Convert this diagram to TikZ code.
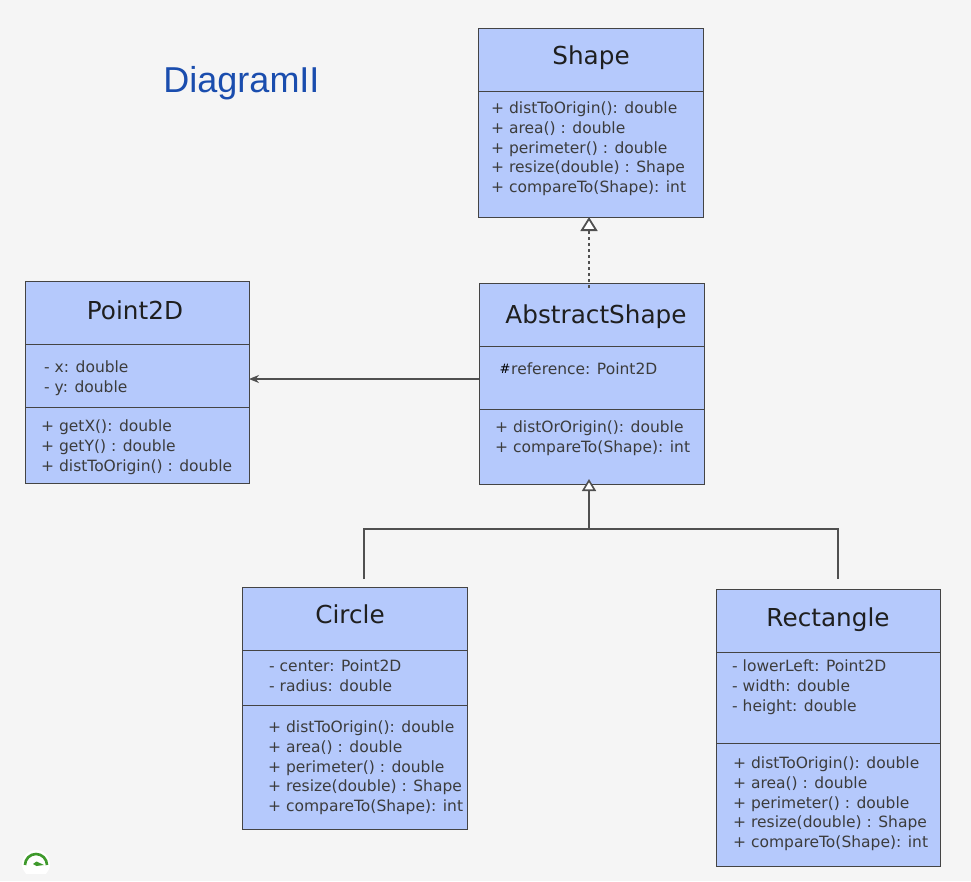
\documentclass[tikz,border=0pt]{standalone}
\usepackage{fontspec}
\setmainfont{DejaVu Sans}
\newfontfamily\headfont{Liberation Sans}
\usetikzlibrary{arrows.meta,positioning}
\definecolor{bgc}{HTML}{F5F5F5}
\definecolor{boxc}{HTML}{B5C9FC}
\definecolor{linec}{HTML}{444444}
\definecolor{connc}{HTML}{505050}
\definecolor{headc}{HTML}{1A4DAE}
\definecolor{txtc}{HTML}{3C3C3C}
\definecolor{gaugec}{HTML}{3F9A2C}
\tikzset{
  x=1pt,y=-1pt,
  compart/.style={draw=linec,fill=boxc,line width=1pt,anchor=north west,inner sep=0pt,outer sep=0pt},
  classname/.style={font=\fontsize{24.7}{28}\selectfont,text=black!88,inner sep=0pt},
  members/.style={font=\fontsize{15.5}{19.6}\selectfont,text=txtc,align=left,anchor=north west,inner sep=0pt},
  assoc/.style={draw=connc,line width=2pt},
  upperhead/.style={-{Triangle[open,fill=white,length=14pt,width=17pt,line width=1.8pt]}},
  lowerhead/.style={-{Triangle[open,fill=white,length=12pt,width=14pt,line width=1.6pt]}},
  headtext/.style={font=\headfont\fontsize{36}{40}\selectfont,text=headc,inner sep=0pt},
}
\newcommand{\comp}[5]{\node[compart,minimum width=#3pt,minimum height=#4pt] (#5) at (#1,#2) {};}
\begin{document}
\begin{tikzpicture}
\useasboundingbox (0,0) rectangle (971,881);
\fill[bgc] (0,0) rectangle (971,881);

\node[headtext] (heading) at (241.5,83) {DiagramII};

% Shape
\comp{478}{28}{225}{63}{shapeT}
\comp{478}{91}{225}{126}{shapeO}
\node[classname] (shapeN) at (591,58) {Shape};
\node[members] (shapeM) at (491,102) {+ distToOrigin(): double\\+ area() : double\\+ perimeter() : double\\+ resize(double) : Shape\\+ compareTo(Shape): int};

% AbstractShape
\comp{479}{283}{225}{63}{absT}
\comp{479}{346}{225}{63}{absA}
\comp{479}{409}{225}{75}{absO}
\node[classname] (absN) at (596,317) {AbstractShape};
\node[members,font=\fontsize{13}{15}\selectfont] (absH) at (499.5,363.5) {\textcolor{black}{\#}};
\node[members] (absM1) at (511,363) {reference: Point2D};
\node[members] (absM2) at (495,421) {+ distOrOrigin(): double\\+ compareTo(Shape): int};

% Point2D
\comp{25}{281}{224}{63}{ptT}
\comp{25}{344}{224}{63}{ptA}
\comp{25}{407}{224}{76}{ptO}
\node[classname] (ptN) at (135,310) {Point2D};
\node[members] (ptM1) at (44,361) {- x: double\\- y: double};
\node[members] (ptM2) at (41,420) {+ getX(): double\\+ getY() : double\\+ distToOrigin() : double};

% Circle
\comp{242}{587}{225}{63}{cirT}
\comp{242}{650}{225}{55}{cirA}
\comp{242}{705}{225}{124}{cirO}
\node[classname] (cirN) at (350,614) {Circle};
\node[members] (cirM1) at (269,660) {- center: Point2D\\- radius: double};
\node[members] (cirM2) at (268,721) {+ distToOrigin(): double\\+ area() : double\\+ perimeter() : double\\+ resize(double) : Shape\\+ compareTo(Shape): int};

% Rectangle
\comp{716}{589}{224}{63}{recT}
\comp{716}{652}{224}{91}{recA}
\comp{716}{743}{224}{123}{recO}
\node[classname] (recN) at (828,620) {Rectangle};
\node[members] (recM1) at (732,660) {- lowerLeft: Point2D\\- width: double\\- height: double};
\node[members] (recM2) at (733,757) {+ distToOrigin(): double\\+ area() : double\\+ perimeter() : double\\+ resize(double) : Shape\\+ compareTo(Shape): int};

% connectors
\coordinate (shapeIn) at (589,217);
\coordinate (absOut) at (589,288);
\coordinate (absIn) at (589,479);
\coordinate (junction) at (589,529);
\coordinate (cirTop) at (364,579);
\coordinate (recTop) at (838,579);
\coordinate (ptIn) at (249,379);
\coordinate (absLeft) at (479,379);
\draw[assoc,upperhead,dash pattern=on 3pt off 3pt] (absOut) -- (shapeIn);
\draw[assoc,-{Stealth[length=10pt,width=8pt]}] (absLeft) -- (ptIn);
\draw[assoc,lowerhead] (junction) -- (absIn);
\draw[assoc] (cirTop) -- (364,529) -- (838,529) -- (recTop);

% gauge badge
\node[circle,fill=white,minimum size=28pt,inner sep=0pt] (badge) at (36,864) {};
\fill[bgc] (20,873.5) rectangle (52,881);
\draw[gaugec,line width=2.6pt] (25,865) arc[start angle=180,end angle=360,radius=11];
\fill[gaugec] (33,864) -- (36.5,861.5) -- (44,865) -- (36.5,866) -- cycle;
\end{tikzpicture}
\end{document}
